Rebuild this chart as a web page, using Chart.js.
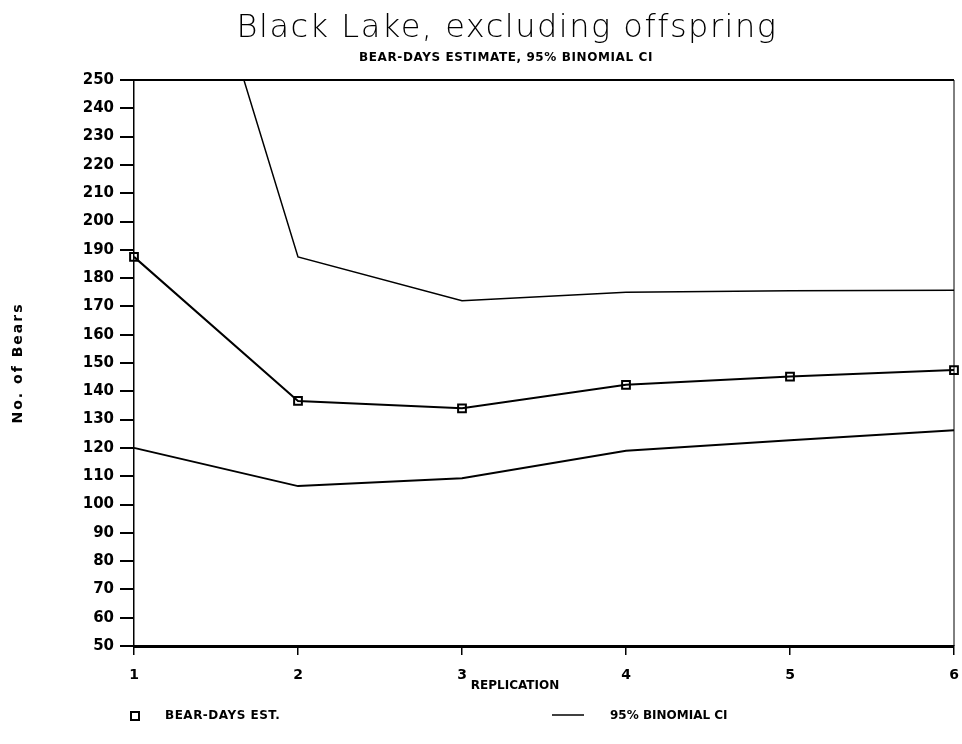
<!DOCTYPE html>
<html>
<head>
<meta charset="utf-8">
<script src="https://cdn.jsdelivr.net/npm/chart.js@4.4.1/dist/chart.umd.min.js"></script>
<style>
  html, body { margin: 0; padding: 0; background: #fff; }
  #wrap { width: 962px; height: 744px; position: relative; }
</style>
</head>
<body>
<div id="wrap"><canvas id="c" width="962" height="744"></canvas></div>
<script>
const replications = ['1', '2', '3', '4', '5', '6'];
const bearDaysEst = [187.5, 136.6, 134, 142.3, 145.2, 147.5];
const ciUpper = [377, 187.5, 172, 175, 175.5, 175.7];
const ciLower = [120, 106.5, 109.3, 119, 122.7, 126.2];
const yMin = 50, yMax = 250, yStep = 10;

const titleText = 'Black Lake, excluding offspring';
const subtitleText = 'BEAR-DAYS ESTIMATE, 95% BINOMIAL CI';
const yTitle = 'No. of Bears';
const xTitle = 'REPLICATION';
const legendEst = 'BEAR-DAYS EST.';
const legendCI = '95% BINOMIAL CI';

const textPlugin = {
  id: 'texts',
  afterDraw(chart) {
    const ctx = chart.ctx;
    const a = chart.chartArea;
    ctx.save();
    // frame top and right
    ctx.strokeStyle = '#000';
    ctx.lineWidth = 2;
    ctx.beginPath();
    ctx.moveTo(a.left, a.top); ctx.lineTo(a.right, a.top);
    ctx.stroke();
    ctx.lineWidth = 1;
    ctx.beginPath();
    ctx.moveTo(a.right, a.top); ctx.lineTo(a.right, a.bottom);
    ctx.stroke();

    ctx.fillStyle = '#000';
    ctx.textBaseline = 'middle';
    ctx.textAlign = 'center';
    // title
    ctx.font = '300 32px "DejaVu Sans", sans-serif';
    ctx.letterSpacing = '1.5px';
    ctx.fillText(titleText, 507, 29);
    // subtitle
    ctx.font = 'bold 12px "DejaVu Sans", sans-serif';
    ctx.letterSpacing = '0.6px';
    ctx.fillText(subtitleText, 506, 58);
    ctx.letterSpacing = '0px';
    // x title
    ctx.font = 'bold 12px "DejaVu Sans", sans-serif';
    ctx.fillText(xTitle, 515, 686);
    // y title
    ctx.save();
    ctx.translate(18, 363);
    ctx.rotate(-Math.PI / 2);
    ctx.font = 'bold 14px "DejaVu Sans", sans-serif';
    ctx.letterSpacing = '2px';
    ctx.fillText(yTitle, 0, 0);
    ctx.restore();
    // legend
    ctx.textAlign = 'left';
    ctx.letterSpacing = '0.5px';
    ctx.font = 'bold 12px "DejaVu Sans", sans-serif';
    ctx.lineWidth = 2;
    ctx.strokeRect(131, 712, 8, 8);
    ctx.fillText(legendEst, 165, 716);
    ctx.lineWidth = 1.5;
    ctx.beginPath();
    ctx.moveTo(552, 715); ctx.lineTo(584, 715);
    ctx.stroke();
    ctx.letterSpacing = '0px';
    ctx.fillText(legendCI, 610, 716);
    ctx.restore();
  }
};

new Chart(document.getElementById('c'), {
  type: 'line',
  data: {
    labels: replications,
    datasets: [
      {
        label: legendEst,
        data: bearDaysEst,
        borderColor: '#000',
        borderWidth: 2,
        pointStyle: 'rect',
        pointRadius: 5.5,
        pointBorderWidth: 2,
        pointBackgroundColor: 'rgba(0,0,0,0)',
        pointBorderColor: '#000',
        tension: 0
      },
      {
        label: legendCI,
        data: ciUpper,
        borderColor: '#000',
        borderWidth: 1.5,
        pointRadius: 0,
        tension: 0
      },
      {
        label: legendCI + ' lower',
        data: ciLower,
        borderColor: '#000',
        borderWidth: 2,
        pointRadius: 0,
        tension: 0
      }
    ]
  },
  plugins: [textPlugin],
  options: {
    responsive: false,
    animation: false,
    events: [],
    layout: { padding: { left: 0, right: 8, top: 80, bottom: 0 } },
    plugins: {
      legend: { display: false },
      title: { display: false },
      tooltip: { enabled: false }
    },
    scales: {
      x: {
        type: 'category',
        offset: false,
        afterFit(s) { s.height = 98; s.paddingRight = 0; s.paddingLeft = 0; },
        border: { display: true, color: '#000', width: 3 },
        grid: { drawOnChartArea: false, drawTicks: true, tickLength: 9, color: '#000', lineWidth: 1.5 },
        ticks: {
          color: '#000',
          padding: 12,
          maxRotation: 0,
          font: { family: '"DejaVu Sans", sans-serif', size: 14, weight: 'bold' }
        }
      },
      y: {
        type: 'linear',
        min: yMin,
        max: yMax,
        afterFit(s) { s.width = 134; },
        border: { display: true, color: '#000', width: 1.5 },
        grid: { drawOnChartArea: false, drawTicks: true, tickLength: 14, color: '#000', lineWidth: 2 },
        ticks: {
          stepSize: yStep,
          color: '#000',
          padding: 6,
          font: { family: '"DejaVu Sans", sans-serif', size: 15, weight: 'bold' }
        }
      }
    }
  }
});
</script>
</body>
</html>
